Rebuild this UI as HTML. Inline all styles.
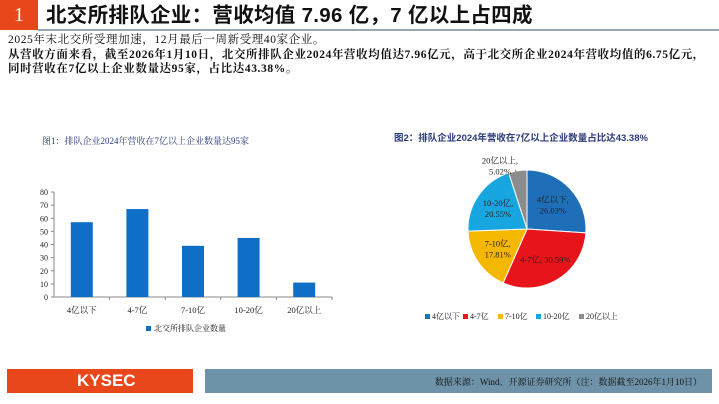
<!DOCTYPE html>
<html><head><meta charset="utf-8"><style>
body{margin:0;width:719px;height:404px;background:#fff;overflow:hidden;font-family:"Liberation Serif","Noto Serif CJK SC",serif;position:relative}
.a{position:absolute}
</style></head><body>
<div class="a" style="left:0;top:0;width:38px;height:30px;background:#e8471c;color:#fff;font-size:20px;text-align:center;line-height:30px">1</div>
<div class="a" style="left:46px;top:2px;font-size:20.5px;font-weight:bold;font-family:'Liberation Sans','Noto Sans CJK SC',sans-serif;color:#111;line-height:28px;letter-spacing:0.3px">北交所排队企业：营收均值 7.96 亿，7 亿以上占四成</div>
<div class="a" style="left:38px;top:29px;width:681px;height:2px;background:#9aa7b0"></div>
<div class="a" style="left:8px;top:33px;font-size:11.5px;line-height:14.5px;color:#111;letter-spacing:0.6px;white-space:nowrap">2025年末北交所受理加速，12月最后一周新受理40家企业。<br><b>从营收方面来看，截至2026年1月10日，北交所排队企业2024年营收均值达7.96亿元，高于北交所企业2024年营收均值的6.75亿元，<br>同时营收在7亿以上企业数量达95家，占比达43.38%。</b></div>
<div class="a" style="left:42px;top:134px;font-size:9px;color:#2b3a7a">图1：排队企业2024年营收在7亿以上企业数量达95家</div>
<div class="a" style="left:394px;top:130px;font-size:9.5px;color:#2b3a7a;font-weight:bold;font-family:'Liberation Sans','Noto Sans CJK SC',sans-serif">图2：排队企业2024年营收在7亿以上企业数量占比达43.38%</div>
<svg class="a" style="left:0;top:0" width="719" height="404" id="svg"></svg>
<div class="a" style="left:7px;top:369px;width:186px;height:24px;background:#e8471c;color:#fff;font:bold 17px 'Liberation Sans',sans-serif;line-height:24px;text-indent:70px">KYSEC</div>
<div class="a" style="left:205px;top:369px;width:507px;height:24px;background:#6e93a8;color:#111;font-size:9px;line-height:26px;text-align:right;box-sizing:border-box;padding-right:10px">数据来源：Wind、开源证券研究所（注：数据截至2026年1月10日）</div>
<script>
const cats=["4亿以下","4-7亿","7-10亿","10-20亿","20亿以上"];
const counts=[57,67,39,45,11];
const yTicks=[0,10,20,30,40,50,60,70,80];
const shares=[26.03,30.59,17.81,20.55,5.02];
const pieLabels=["4亿以下,","4-7亿, 30.59%","7-10亿,","10-20亿,","20亿以上,"];
const colors=["#1f6fb8","#e8141c","#f5b800","#18a6e0","#8c8c8c"];
const NS="http://www.w3.org/2000/svg",svg=document.getElementById('svg');
function mk(t,a,p){const e=document.createElementNS(NS,t);for(const k in a)e.setAttribute(k,a[k]);(p||svg).appendChild(e);return e}
const x0=54,x1=332,y0=297,y1=192;
const ys=v=>y0-(v/80)*(y0-y1);
const bw=(x1-x0)/cats.length;
const xs=i=>x0+bw*(i+0.5);
let ax=mk('line',{x1:x0,y1:y0,x2:x0,y2:y1,stroke:'#888'});

let bx=mk('line',{x1:x0,y1:y0,x2:x1,y2:y0,stroke:'#888'});

yTicks.forEach(v=>{const t=mk('text',{x:x0-6,y:ys(v)+3,'font-size':8,'text-anchor':'end',fill:'#222'});t.textContent=v;

mk('line',{x1:x0-3,y1:ys(v),x2:x0,y2:ys(v),stroke:'#888'});});
cats.forEach((c,i)=>{const r=mk('rect',{x:xs(i)-11,y:ys(counts[i]),width:22,height:y0-ys(counts[i]),fill:'#0f6fc6'});

const t=mk('text',{x:xs(i),y:313,'font-size':8.5,'text-anchor':'middle',fill:'#222'});t.textContent=c;

mk('line',{x1:x0+bw*(i+1),y1:y0,x2:x0+bw*(i+1),y2:y0+3,stroke:'#888'});});
let lg=mk('rect',{x:146,y:326,width:5,height:5,fill:'#0f6fc6'});
let lt=mk('text',{x:154,y:331,'font-size':8,fill:'#222'});lt.textContent='北交所排队企业数量';
const cx=527,cy=229,R=59;let a=-Math.PI/2;const tot=shares.reduce((s,v)=>s+v,0);
const pt=(ang,r)=>[cx+r*Math.cos(ang),cy+r*Math.sin(ang)];
shares.forEach((s,i)=>{const a2=a+s/tot*2*Math.PI;const [xa,ya]=pt(a,R),[xb,yb]=pt(a2,R);
const p=mk('path',{d:`M${cx},${cy}L${xa},${ya}A${R},${R} 0 ${a2-a>Math.PI?1:0} 1 ${xb},${yb}Z`,fill:colors[i],stroke:'#fff','stroke-width':1});

const m=(a+a2)/2;let [lx,ly]=pt(m,R*0.6);
let lines=[pieLabels[i],s.toFixed(2)+'%'];if(i==1)lines=[pieLabels[i]];
if(i==4){lx=500;ly=166;mk('line',{x1:515,y1:170,x2:520,y2:176,stroke:'#888'});}
lines.forEach((l,j)=>{const t=mk('text',{x:lx,y:ly+(j-(lines.length-1)/2)*11+3,'font-size':8.5,'text-anchor':'middle',fill:'#222'});t.textContent=l;
});
a=a2;});
let lx=425;cats.forEach((c,i)=>{const r=mk('rect',{x:lx,y:314,width:5,height:5,fill:colors[i]});
const t=mk('text',{x:lx+7,y:319,'font-size':8,fill:'#222'});t.textContent=c;
lx+=[38,35,38,43,40][i];});
</script>
</body></html>
